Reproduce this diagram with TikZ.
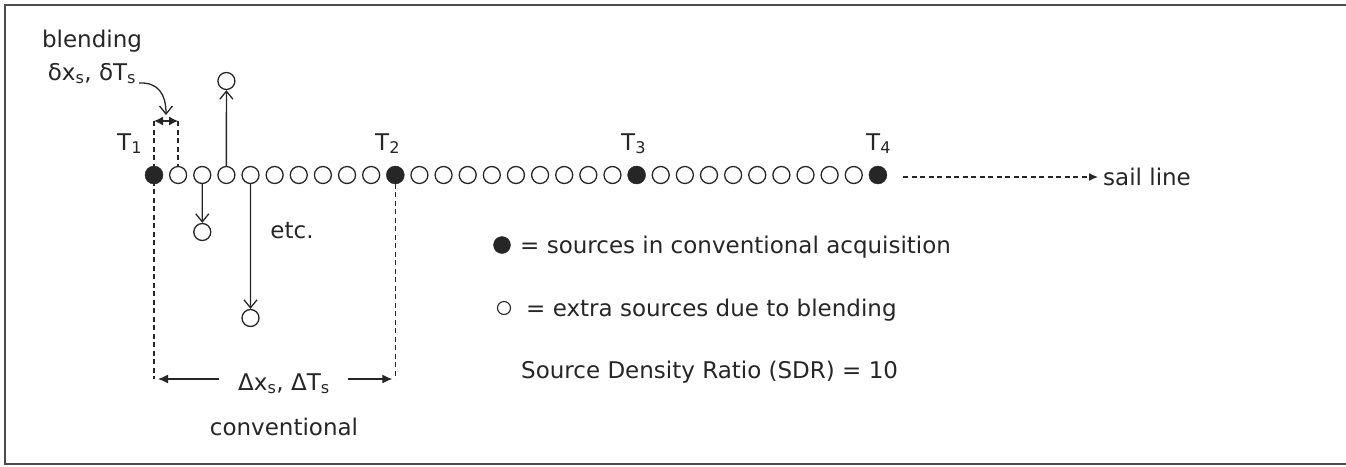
\documentclass[tikz,border=0pt]{standalone}
\usepackage{fontspec}
\setmainfont{DejaVu Sans}
\usetikzlibrary{arrows.meta}
\definecolor{ink}{HTML}{262626}
\tikzset{
  hollow/.style={circle, draw=ink, line width=1.3pt, fill=white, minimum size=17pt, inner sep=0pt},
  filled/.style={circle, fill=ink, draw=ink, minimum size=18pt, inner sep=0pt},
  lbl/.style={font=\fontsize{23}{27}\selectfont, text=ink, inner sep=0pt},
  conn/.style={draw=ink, line width=1.3pt},
  dsh/.style={draw=ink, line width=1.3pt, dash pattern=on 5pt off 3.5pt},
  barb/.style={-{Straight Barb[length=8pt,width=13pt,line width=1.3pt]}},
  ltx/.style={-{Latex[length=10pt,width=9pt]}},
}
\newcommand{\sbs}[1]{\textsubscript{#1}}
\begin{document}
\begin{tikzpicture}[x=1pt,y=-1pt]
\useasboundingbox (0,0) rectangle (1346,466);
\draw[draw=black!70, line width=1.2pt] (1350,5) -- (5,5) -- (5,464) -- (1350,464);

% dashed guides
\coordinate (d1t) at (154,121);
\coordinate (d2t) at (178.13,121);
\coordinate (d1b) at (154,379);
\coordinate (d3b) at (395.3,379);
\draw[dsh] (d1t) -- (d1b);
\draw[dsh] (d2t) -- (178.13,175);
\draw[dsh] (395.3,175) -- (d3b);

% sources along the line
\foreach \i in {0,...,30}{
  \pgfmathtruncatemacro{\m}{mod(\i,10)}
  \ifnum\m=0
    \node[filled] (c\i) at ({154+24.13*\i},175) {};
  \else
    \node[hollow] (c\i) at ({154+24.13*\i},175) {};
  \fi
}

% displaced sources
\node[hollow] (up) at (226.4,81) {};
\node[hollow] (dn1) at (202.3,232) {};
\node[hollow] (dn2) at (250.5,318) {};
\draw[conn, barb] (c3) -- (up);
\draw[conn, barb] (c2) -- (dn1);
\draw[conn, barb] (c4) -- (dn2);

% blending interval
\draw[conn, {Latex[length=9pt,width=9pt]}-{Latex[length=9pt,width=9pt]}] (d1t) -- (d2t);
\node[lbl] (bl) at (92,41) {blending};
\node[lbl, anchor=base] (bd) at (92,80) {δx\sbs{s}, δT\sbs{s}};
\coordinate (ca) at (139,83);
\coordinate (cb) at (166,115);
\draw[conn, barb] (ca) .. controls (158,82) and (166,94) .. (cb);

% T labels
\node[lbl, anchor=base west] (t1) at (117,150) {T\sbs{1}};
\node[lbl, anchor=base west] (t2) at (375,150) {T\sbs{2}};
\node[lbl, anchor=base west] (t3) at (621,150) {T\sbs{3}};
\node[lbl, anchor=base west] (t4) at (866,150) {T\sbs{4}};

% sail line
\node[lbl, anchor=base west] (sail) at (1103,185) {sail line};
\coordinate (s0) at (903,177);
\draw[dsh, -{Latex[length=9pt,width=8pt]}] (s0) -- (1098,177);

\node[lbl, anchor=base] (etc) at (292,238) {etc.};

% conventional interval
\node[lbl, anchor=base] (dx) at (284,390) {Δx\sbs{s}, ΔT\sbs{s}};
\node[lbl, anchor=base] (conv) at (284,435) {conventional};
\coordinate (al) at (219,379);
\coordinate (ar) at (348,379);
\draw[conn, ltx, shorten >=4pt] (al) -- (d1b);
\draw[conn, ltx, shorten >=3pt] (ar) -- (d3b);

% legend
\node[filled, minimum size=17pt] (lf) at (502,245) {};
\node[lbl, anchor=base west] (lt1) at (520,253) {= sources in conventional acquisition};
\node[hollow, minimum size=13pt, line width=1.1pt] (lh) at (504,308) {};
\node[lbl, anchor=base west] (lt2) at (526,316) {= extra sources due to blending};
\node[lbl, anchor=base west] (lt3) at (521,378) {Source Density Ratio (SDR) = 10};
\end{tikzpicture}
\end{document}
